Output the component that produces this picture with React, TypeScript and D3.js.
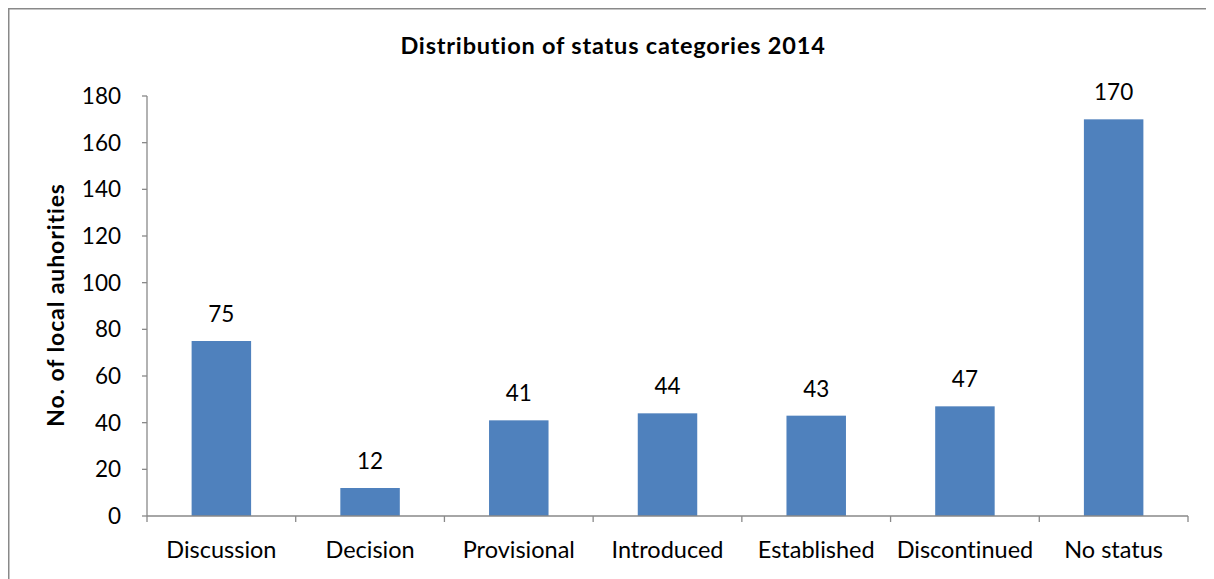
import { scaleBand, scaleLinear } from "d3";

const categories = ["Discussion", "Decision", "Provisional", "Introduced", "Established", "Discontinued", "No status"];
const counts = [75, 12, 41, 44, 43, 47, 170];
const yTicks = [0, 20, 40, 60, 80, 100, 120, 140, 160, 180];

const chartTitle = "Distribution of status categories 2014";
const yTitle = "No. of local auhorities";

// page coords, svg sits at the body's 8px margin
const OFF = 8;
const M = { left: 147, right: 1188, top: 96, bottom: 516 };
const FONT = "Lato, 'Open Sans', sans-serif";
const noLig = { fontVariantLigatures: "none" as const };

const App = () => {
  const x = scaleBand<string>()
    .domain(categories)
    .range([M.left, M.right])
    .paddingInner(0.6)
    .paddingOuter(0.3);
  const y = scaleLinear().domain([0, 180]).range([M.bottom, M.top]);
  const step = x.step();
  const bounds = categories.map((_, i) => M.left + i * step).concat([M.right]);

  return (
    <svg width={1206} height={571} style={{ display: "block" }}>
      <g transform={`translate(${-OFF}, ${-OFF})`}>
        {/* chart frame, only top and left fit in the window */}
        <rect x={8.75} y={8.75} width={1400} height={800} fill="white" stroke="#898989" strokeWidth={1.5} />

        <text
          x={613}
          y={54}
          textAnchor="middle"
          fontFamily={FONT}
          fontWeight="bold"
          fontSize={23.5}
          letterSpacing={0.8}
          fill="#000"
          style={noLig}
        >
          {chartTitle}
        </text>

        <text
          transform={`translate(64, ${(M.top + M.bottom) / 2 - 1}) rotate(-90)`}
          textAnchor="middle"
          fontFamily={FONT}
          fontWeight="bold"
          fontSize={23}
          letterSpacing={0.9}
          fill="#000"
          style={noLig}
        >
          {yTitle}
        </text>

        {/* y axis */}
        <line x1={M.left} x2={M.left} y1={M.top} y2={M.bottom} stroke="#898989" strokeWidth={1.3} />
        {yTicks.map((t) => (
          <g key={t}>
            <line x1={M.left - 5} x2={M.left} y1={y(t)} y2={y(t)} stroke="#898989" strokeWidth={1.3} />
            <text x={M.left - 26} y={y(t)} dy="0.36em" textAnchor="end" fontFamily={FONT} fontSize={22.5} fill="#000">
              {t}
            </text>
          </g>
        ))}

        {/* bars */}
        {categories.map((c, i) => (
          <g key={c}>
            <rect x={x(c)} y={y(counts[i])} width={x.bandwidth()} height={M.bottom - y(counts[i])} fill="#4F81BD" />
            <text
              x={(x(c) ?? 0) + x.bandwidth() / 2}
              y={y(counts[i]) - 19}
              textAnchor="middle"
              fontFamily={FONT}
              fontSize={22.5}
              fill="#000"
            >
              {counts[i]}
            </text>
          </g>
        ))}

        {/* x axis */}
        <line x1={M.left} x2={M.right} y1={M.bottom} y2={M.bottom} stroke="#898989" strokeWidth={1.3} />
        {bounds.map((b, i) => (
          <line key={i} x1={b} x2={b} y1={M.bottom} y2={M.bottom + 6} stroke="#898989" strokeWidth={1.3} />
        ))}
        {categories.map((c) => (
          <text
            key={c}
            x={(x(c) ?? 0) + x.bandwidth() / 2}
            y={558}
            textAnchor="middle"
            fontFamily={FONT}
            fontSize={23.5}
            fill="#000"
            style={noLig}
          >
            {c}
          </text>
        ))}
      </g>
    </svg>
  );
};

export default App;
